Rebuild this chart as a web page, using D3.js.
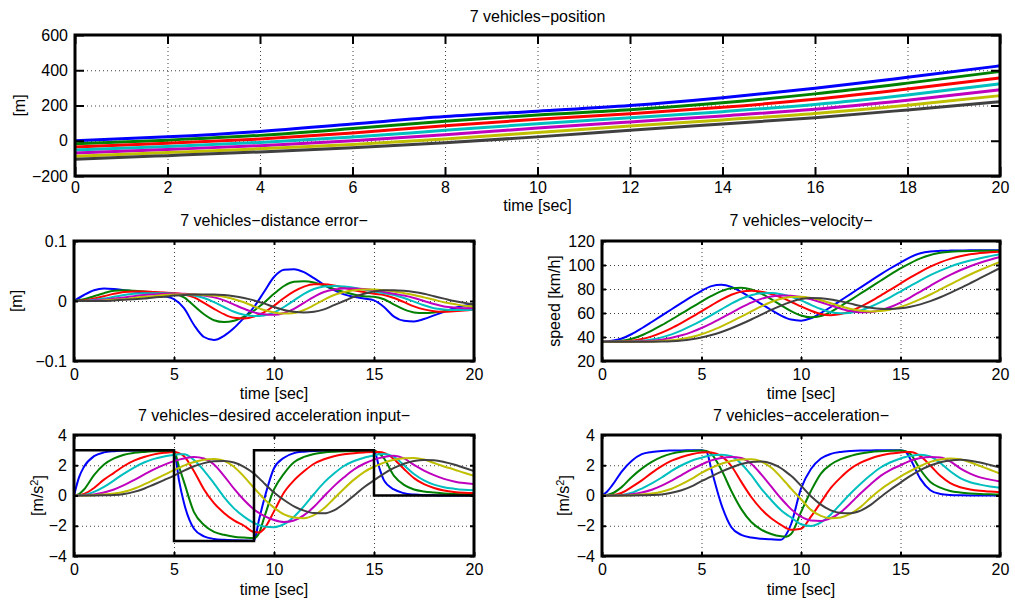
<!DOCTYPE html>
<html>
<head>
<meta charset="utf-8">
<script src="https://cdn.jsdelivr.net/npm/d3@7"></script>
<style>
html, body { margin: 0; padding: 0; background: #fff; }
svg { display: block; }
</style>
</head>
<body>
<svg id="chart" width="1015" height="601"></svg>
<script>
// ---------------- DATA ----------------
const time = [0,0.5,1,1.5,2,2.5,3,3.5,4,4.5,5,5.5,6,6.5,7,7.5,8,8.5,9,9.5,10,
              10.5,11,11.5,12,12.5,13,13.5,14,14.5,15,15.5,16,16.5,17,17.5,18,18.5,19,19.5,20];
// acceleration panels use a slightly denser grid around the input switches
const accTime = [0,0.25,0.5,1,1.5,2,2.5,3,3.5,4,4.5,5,5.25,5.5,6,6.5,7,7.5,8,8.5,9,9.25,
                 9.5,10,10.5,11,11.5,12,12.5,13,13.5,14,14.5,15,15.25,15.5,16,16.5,17,17.5,18,18.5,19,19.5,20];
const posTime = [0,2,4,6,8,10,12,14,16,18,20];
const vehicleColors = ["#0000ff","#008000","#ff0000","#00bfbf","#bf00bf","#bfbf00","#404040"];

// position [m]
const pos1 = [0, 22, 53, 95, 137, 168, 200, 244, 298, 360, 425];
const pos2 = [-17.5, 3.5, 30.5, 69, 111, 146, 176, 216, 266, 327, 393];
const pos3 = [-35, -14.5, 10, 44, 85, 122, 153, 190, 235, 293, 357];
const pos4 = [-52.5, -32, -9.5, 21, 59, 97, 130, 165, 206, 260, 323];
const pos5 = [-70, -49.5, -28, -0.5, 34, 72, 107, 141, 179, 230, 289];
const pos6 = [-87.5, -67, -46, -21, 10.5, 46.5, 83, 118, 154, 201, 256];
const pos7 = [-105, -84.5, -63.5, -40, -11.5, 22, 59, 95, 131, 175, 222];

// distance error [m]
const err1 = [0,0.01,0.018,0.021,0.02,0.018,0.016,0.014,0.012,0.008,0.003,-0.012,-0.04,-0.06,-0.065,-0.058,-0.045,-0.028,-0.01,0.015,0.04,0.052,0.053,0.048,0.038,0.027,0.018,0.011,0.007,0.004,0.001,-0.01,-0.026,-0.033,-0.034,-0.03,-0.024,-0.018,-0.012,-0.008,-0.005];
const err2 = [0,0.003,0.008,0.013,0.017,0.018,0.017,0.016,0.014,0.013,0.012,0.006,-0.008,-0.022,-0.032,-0.035,-0.033,-0.026,-0.016,-0.003,0.012,0.025,0.032,0.033,0.031,0.026,0.02,0.015,0.011,0.008,0.007,0.003,-0.006,-0.014,-0.019,-0.02,-0.019,-0.017,-0.015,-0.013,-0.012];
const err3 = [0,0.001,0.004,0.008,0.012,0.015,0.016,0.016,0.015,0.014,0.013,0.011,0.006,-0.003,-0.013,-0.022,-0.028,-0.029,-0.026,-0.019,-0.008,0.005,0.016,0.024,0.028,0.028,0.026,0.022,0.018,0.015,0.012,0.01,0.005,-0.002,-0.009,-0.014,-0.017,-0.018,-0.017,-0.016,-0.014];
const err4 = [0,0,0.002,0.004,0.007,0.01,0.012,0.013,0.013,0.013,0.012,0.011,0.009,0.005,-0.002,-0.01,-0.018,-0.023,-0.025,-0.024,-0.019,-0.01,0.001,0.012,0.02,0.024,0.025,0.024,0.022,0.019,0.016,0.013,0.01,0.005,-0.001,-0.007,-0.012,-0.014,-0.015,-0.015,-0.014];
const err5 = [0,0,0.001,0.002,0.004,0.006,0.008,0.01,0.011,0.012,0.012,0.012,0.011,0.009,0.006,0.001,-0.006,-0.013,-0.019,-0.022,-0.023,-0.02,-0.013,-0.003,0.007,0.015,0.019,0.021,0.021,0.02,0.018,0.015,0.012,0.009,0.005,0,-0.005,-0.009,-0.011,-0.012,-0.012];
const err6 = [0,0,0,0.001,0.002,0.003,0.005,0.007,0.008,0.01,0.011,0.011,0.011,0.01,0.009,0.007,0.003,-0.002,-0.009,-0.015,-0.019,-0.021,-0.02,-0.015,-0.007,0.002,0.01,0.015,0.018,0.019,0.019,0.018,0.016,0.013,0.01,0.006,0.002,-0.002,-0.005,-0.008,-0.009];
const err7 = [0,0,0,0,0.001,0.002,0.003,0.004,0.006,0.007,0.009,0.01,0.011,0.011,0.011,0.01,0.008,0.005,0.001,-0.004,-0.01,-0.015,-0.018,-0.019,-0.018,-0.014,-0.007,0,0.007,0.012,0.016,0.018,0.018,0.017,0.015,0.012,0.008,0.004,0,-0.003,-0.006];

// velocity [km/h]
const vel1 = [36,36.8,38.8,42.5,47.3,52.5,57.8,63.1,68.4,73.6,78.5,82.4,83.6,81.8,77.6,72.7,67.6,62.5,57.8,54.5,53.6,55.6,60,65,70.5,76,81.4,86.8,92.2,97.3,102,106.6,109.8,111.3,111.8,112,112.1,112.2,112.2,112.2,112.2];
const vel2 = [36,36.1,36.8,38.6,41.5,45.4,49.8,54.6,59.6,64.6,69.5,74.2,78.2,80.6,81,79.6,76.2,71.6,66.5,61.6,57.9,56.4,57.5,61,65.8,71,76.3,81.6,86.9,92.2,97.2,101.6,105.5,108.4,110.2,111.1,111.5,111.7,111.8,111.8,111.8];
const vel3 = [36,36.02,36.2,36.9,38.3,40.5,43.6,47.4,51.8,56.5,61.4,66.4,71.2,75.2,77.8,78.6,77.8,75.9,73,69.4,65.5,61.9,59.2,58.2,59.1,61.6,65.3,69.7,74.5,79.5,84.6,89.6,94.3,98.6,102.2,105.1,107.3,108.9,110,110.7,111.1];
const vel4 = [36,36,36.04,36.25,36.8,37.9,39.7,42.2,45.5,49.4,53.7,58.3,63.1,67.8,71.9,74.8,76.4,76.6,75.6,73.5,70.5,66.8,63.3,60.6,59.7,60.3,62.2,65.2,69,73.3,77.9,82.6,87.2,91.5,95.3,98.6,101.4,103.7,105.7,107.4,109];
const vel5 = [36,36,36.02,36.1,36.4,36.9,37.8,39.3,41.4,44.1,47.5,51.4,55.7,60.2,64.6,68.6,71.8,73.7,74.6,74.4,73.3,71.4,68.9,66.2,63.6,61.6,60.6,60.8,62.3,65,68.7,73.1,77.9,82.7,87.4,91.7,95.6,99,101.9,104.4,106.6];
const vel6 = [36,36,36,36.02,36.1,36.3,36.6,37.2,38.3,40,42.3,45.3,48.9,52.8,57,61.3,65.5,69.2,71.9,73.4,73.6,72.6,70.6,68.1,65.6,63.4,61.9,61.3,61.6,62.9,65.1,68,71.5,75.4,79.6,83.9,88.1,92.1,95.8,99.3,102.6];
const vel7 = [36,36,36,36,36.02,36.06,36.2,36.5,37.1,38.1,39.6,41.6,44.2,47.3,50.8,54.6,58.6,62.6,66.2,69.3,71.6,72.6,72.3,71.3,69.7,67.8,65.9,64.4,63.5,63.3,63.9,65.2,67.2,69.9,73.1,76.8,80.7,84.8,89,93.2,97.5];

// desired acceleration input [m/s^2]  (on accTime)
const des1 = [0,1.2,1.9,2.6,2.85,2.93,2.97,2.98,2.99,3,3,3,1.0,-0.5,-2.2,-2.7,-2.87,-2.93,-2.96,-2.98,-2.99,-1.6,-0.3,1.8,2.5,2.8,2.9,2.95,2.97,2.98,2.99,3,3,3,1.9,1.0,0.4,0.15,0.06,0.02,0.01,0,0,0,0];
const des2 = [0,0.1,0.4,1.35,2.05,2.45,2.7,2.82,2.88,2.92,2.94,2.95,1.9,0.9,-1.1,-1.95,-2.4,-2.6,-2.72,-2.78,-2.82,-2.5,-1.5,0.4,1.45,2.2,2.55,2.75,2.85,2.9,2.93,2.95,2.96,2.97,2.8,2.45,1.3,0.7,0.4,0.27,0.2,0.14,0.1,0.08,0.06];
const des3 = [0,0.02,0.1,0.5,1.05,1.5,1.95,2.3,2.55,2.72,2.82,2.88,2.8,2.6,1.6,0.4,-0.5,-1.15,-1.65,-2.0,-2.42,-2.45,-2.2,-1.05,0.2,1.0,1.6,2.1,2.4,2.6,2.72,2.8,2.85,2.88,2.87,2.82,2.4,1.75,1.15,0.75,0.5,0.33,0.23,0.18,0.16];
const des4 = [0,0.01,0.04,0.24,0.57,1.0,1.45,1.85,2.18,2.42,2.58,2.68,2.72,2.72,2.35,1.65,0.8,-0.1,-0.85,-1.4,-1.82,-1.95,-2.05,-2.1,-1.9,-1.4,-0.7,0.1,0.85,1.45,1.95,2.28,2.5,2.65,2.73,2.75,2.55,2.0,1.42,1.0,0.72,0.55,0.45,0.38,0.35];
const des5 = [0,0,0.01,0.07,0.2,0.4,0.68,1.02,1.38,1.73,2.02,2.27,2.37,2.45,2.55,2.45,2.05,1.3,0.45,-0.3,-0.92,-1.15,-1.35,-1.62,-1.75,-1.65,-1.3,-0.75,-0.05,0.62,1.2,1.72,2.1,2.37,2.47,2.55,2.63,2.45,2.02,1.65,1.35,1.1,0.93,0.82,0.76];
const des6 = [0,0,0,0.02,0.06,0.13,0.25,0.45,0.73,1.04,1.36,1.68,1.83,1.98,2.22,2.37,2.42,2.3,1.9,1.25,0.5,0.14,-0.22,-0.8,-1.25,-1.45,-1.5,-1.3,-0.85,-0.2,0.45,1.05,1.55,1.9,2.04,2.17,2.36,2.46,2.48,2.38,2.15,1.92,1.72,1.5,1.3];
const des7 = [0,0,0,0,0.01,0.03,0.1,0.24,0.45,0.73,1.02,1.32,1.48,1.64,1.93,2.14,2.26,2.28,2.18,1.9,1.45,1.15,0.82,0.2,-0.3,-0.72,-1.0,-1.16,-1.18,-0.98,-0.55,0,0.55,1.0,1.23,1.45,1.82,2.1,2.28,2.35,2.33,2.22,2.05,1.83,1.62];
const stepTime  = [0, 5, 5, 9, 9, 15, 15, 20];
const stepValue = [3, 3, -3, -3, 3, 3, 0, 0];

// acceleration [m/s^2]  (on accTime)
const acc1 = [0,0.25,0.65,1.6,2.3,2.73,2.88,2.95,2.97,2.98,2.99,3,2.9,1.7,-0.6,-2.1,-2.6,-2.78,-2.86,-2.9,-2.93,-2.6,-1.9,0.45,1.75,2.45,2.75,2.88,2.94,2.97,2.98,2.99,3,3,2.9,2.4,1.1,0.35,0.1,0.03,0.01,0,0,0,0];
const acc2 = [0,0.03,0.13,0.57,1.23,1.78,2.22,2.55,2.77,2.9,2.95,2.97,2.95,2.75,1.7,0.3,-0.9,-1.75,-2.25,-2.55,-2.7,-2.72,-2.55,-1.1,0.3,1.45,2.05,2.4,2.62,2.78,2.88,2.93,2.96,2.97,2.93,2.75,1.7,0.9,0.52,0.3,0.2,0.14,0.1,0.08,0.07];
const acc3 = [0,0,0.02,0.18,0.57,1.0,1.5,1.94,2.3,2.55,2.73,2.84,2.86,2.85,2.6,1.95,0.9,-0.1,-0.9,-1.5,-1.95,-2.15,-2.27,-2.2,-1.4,-0.45,0.5,1.2,1.78,2.17,2.45,2.65,2.77,2.84,2.87,2.87,2.6,1.98,1.3,0.82,0.55,0.4,0.31,0.26,0.22];
const acc4 = [0,0,0.005,0.04,0.18,0.46,0.8,1.19,1.63,2.0,2.3,2.5,2.59,2.66,2.7,2.6,2.1,1.34,0.46,-0.3,-0.97,-1.23,-1.45,-1.9,-2.02,-1.78,-1.25,-0.55,0.15,0.78,1.35,1.85,2.2,2.45,2.55,2.62,2.7,2.58,2.15,1.6,1.15,0.88,0.72,0.6,0.52];
const acc5 = [0,0,0,0.02,0.08,0.2,0.38,0.65,0.98,1.35,1.72,2.05,2.2,2.32,2.48,2.55,2.48,2.1,1.4,0.6,-0.2,-0.56,-0.9,-1.4,-1.65,-1.68,-1.5,-1.1,-0.5,0.15,0.75,1.3,1.7,2.0,2.16,2.3,2.48,2.55,2.52,2.25,1.8,1.45,1.2,1.05,0.92];
const acc6 = [0,0,0,0,0.02,0.06,0.13,0.25,0.45,0.75,1.1,1.5,1.67,1.83,2.1,2.28,2.38,2.4,2.25,1.85,1.2,0.83,0.45,-0.25,-0.95,-1.35,-1.5,-1.45,-1.2,-0.75,-0.15,0.4,0.85,1.25,1.44,1.62,1.95,2.22,2.38,2.45,2.4,2.2,1.95,1.7,1.45];
const acc7 = [0,0,0,0,0,0.01,0.03,0.07,0.18,0.35,0.6,0.95,1.1,1.27,1.58,1.85,2.08,2.22,2.25,2.12,1.8,1.56,1.3,0.65,-0.05,-0.6,-0.98,-1.15,-1.17,-1.0,-0.62,-0.1,0.4,0.85,1.08,1.3,1.68,1.98,2.2,2.32,2.36,2.3,2.18,2.02,1.85];

// tick values
const xTicksTop = [0,2,4,6,8,10,12,14,16,18,20];
const xTicksSmall = [0,5,10,15,20];
const yTicksPos = [-200,0,200,400,600];
const yTicksErr = [-0.1,0,0.1];
const yTicksVel = [20,40,60,80,100,120];
const yTicksAcc = [-4,-2,0,2,4];

// ---------------- DRAWING ----------------
const FONT = "'Liberation Sans', Arial, Helvetica, sans-serif";
const svg = d3.select("#chart").attr("font-family", FONT);

const fmt = d => (d < 0 ? "\u2212" + Math.abs(d) : String(d));

const panels = [
  { title: "7 vehicles\u2212position", ylabel: ["[m]"], left: 75, right: 1000, top: 35, bottom: 176,
    xDomain: [0,20], yDomain: [-200,600], xTicks: xTicksTop, yTicks: yTicksPos,
    t: posTime, series: [pos1,pos2,pos3,pos4,pos5,pos6,pos7], lw: 3, tickLen: 9,
    titleY: 22, xlabelY: 211, ylabelX: 25, xPad: 6 },
  { title: "7 vehicles\u2212distance error\u2212", ylabel: ["[m]"], left: 74, right: 474, top: 241, bottom: 361,
    xDomain: [0,20], yDomain: [-0.1,0.1], xTicks: xTicksSmall, yTicks: yTicksErr,
    t: time, series: [err1,err2,err3,err4,err5,err6,err7], lw: 2, tickLen: 4,
    titleY: 226, xlabelY: 399, ylabelX: 22, xPad: 8 },
  { title: "7 vehicles\u2212velocity\u2212", ylabel: ["speed [km/h]"], left: 602, right: 1000, top: 241, bottom: 361,
    xDomain: [0,20], yDomain: [20,120], xTicks: xTicksSmall, yTicks: yTicksVel,
    t: time, series: [vel1,vel2,vel3,vel4,vel5,vel6,vel7], lw: 2, tickLen: 4,
    titleY: 226, xlabelY: 399, ylabelX: 560, xPad: 8 },
  { title: "7 vehicles\u2212desired acceleration input\u2212", ylabel: "ms2", left: 74, right: 474, top: 435, bottom: 556,
    xDomain: [0,20], yDomain: [-4,4], xTicks: xTicksSmall, yTicks: yTicksAcc,
    t: accTime, series: [des1,des2,des3,des4,des5,des6,des7], lw: 2, tickLen: 4,
    titleY: 421, xlabelY: 595, ylabelX: 43, xPad: 8, step: true },
  { title: "7 vehicles\u2212acceleration\u2212", ylabel: "ms2", left: 602, right: 1000, top: 435, bottom: 556,
    xDomain: [0,20], yDomain: [-4,4], xTicks: xTicksSmall, yTicks: yTicksAcc,
    t: accTime, series: [acc1,acc2,acc3,acc4,acc5,acc6,acc7], lw: 2, tickLen: 4,
    titleY: 421, xlabelY: 595, ylabelX: 569, xPad: 8 }
];

panels.forEach((p, pi) => {
  const W = p.right - p.left, H = p.bottom - p.top;
  const x = d3.scaleLinear().domain(p.xDomain).range([p.left, p.right]);
  const y = d3.scaleLinear().domain(p.yDomain).range([p.bottom, p.top]);
  const g = svg.append("g");

  // grid (dotted)
  const styleGrid = s => {
    s.select(".domain").remove();
    s.selectAll(".tick line").attr("stroke", "#000").attr("stroke-width", 1)
      .attr("stroke-dasharray", "1,3").attr("opacity", 0.75);
  };
  g.append("g").attr("transform", `translate(0,${p.bottom})`)
    .call(d3.axisBottom(x).tickValues(p.xTicks).tickSize(-H).tickFormat(""))
    .call(styleGrid);
  g.append("g").attr("transform", `translate(${p.left},0)`)
    .call(d3.axisLeft(y).tickValues(p.yTicks).tickSize(-W).tickFormat(""))
    .call(styleGrid);

  // clip
  const clipId = "clip" + pi;
  svg.append("clipPath").attr("id", clipId).append("rect")
    .attr("x", p.left).attr("y", p.top).attr("width", W).attr("height", H);
  const lg = g.append("g").attr("clip-path", `url(#${clipId})`);

  const line = d3.line().x((d, i) => x(p.t[i])).y(d => y(d)).curve(d3.curveMonotoneX);
  p.series.forEach((s, i) => {
    lg.append("path").attr("d", line(s)).attr("fill", "none")
      .attr("stroke", vehicleColors[i]).attr("stroke-width", p.lw)
      .attr("stroke-linejoin", "round").attr("stroke-linecap", "butt");
  });
  if (p.step) {
    const stepLine = d3.line().x((d, i) => x(stepTime[i])).y(d => y(d)).curve(d3.curveLinear);
    lg.append("path").attr("d", stepLine(stepValue)).attr("fill", "none")
      .attr("stroke", "#000").attr("stroke-width", 2.5).attr("stroke-linejoin", "miter");
  }

  // axes with inward ticks on all four sides
  const styleAxis = s => {
    s.select(".domain").remove();
    s.selectAll(".tick line").attr("stroke", "#000").attr("stroke-width", 2);
    s.selectAll(".tick text").attr("fill", "#000").attr("font-size", 16).attr("font-family", FONT);
  };
  g.append("g").attr("transform", `translate(0,${p.bottom})`)
    .call(d3.axisBottom(x).tickValues(p.xTicks).tickSize(-p.tickLen).tickPadding(p.xPad).tickFormat(fmt))
    .call(styleAxis);
  g.append("g").attr("transform", `translate(0,${p.top})`)
    .call(d3.axisTop(x).tickValues(p.xTicks).tickSize(-p.tickLen).tickFormat(""))
    .call(styleAxis);
  g.append("g").attr("transform", `translate(${p.left},0)`)
    .call(d3.axisLeft(y).tickValues(p.yTicks).tickSize(-p.tickLen).tickPadding(7).tickFormat(fmt))
    .call(styleAxis);
  g.append("g").attr("transform", `translate(${p.right},0)`)
    .call(d3.axisRight(y).tickValues(p.yTicks).tickSize(-p.tickLen).tickFormat(""))
    .call(styleAxis);

  // box
  g.append("rect").attr("x", p.left).attr("y", p.top).attr("width", W).attr("height", H)
    .attr("fill", "none").attr("stroke", "#000").attr("stroke-width", 3);

  // title
  g.append("text").attr("x", (p.left + p.right) / 2).attr("y", p.titleY)
    .attr("text-anchor", "middle").attr("font-size", 16).attr("fill", "#000").text(p.title);
  // x label
  g.append("text").attr("x", (p.left + p.right) / 2).attr("y", p.xlabelY)
    .attr("text-anchor", "middle").attr("font-size", 16).attr("fill", "#000").text("time [sec]");
  // y label
  const yl = g.append("text")
    .attr("transform", `translate(${p.ylabelX},${(p.top + p.bottom) / 2}) rotate(-90)`)
    .attr("text-anchor", "middle").attr("font-size", 16).attr("fill", "#000");
  if (p.ylabel === "ms2") {
    yl.append("tspan").text("[m/s");
    yl.append("tspan").attr("dy", "-0.45em").attr("font-size", 11).text("2");
    yl.append("tspan").attr("dy", "0.45em").text("]");
  } else {
    yl.text(p.ylabel[0]);
  }
});
</script>
</body>
</html>
